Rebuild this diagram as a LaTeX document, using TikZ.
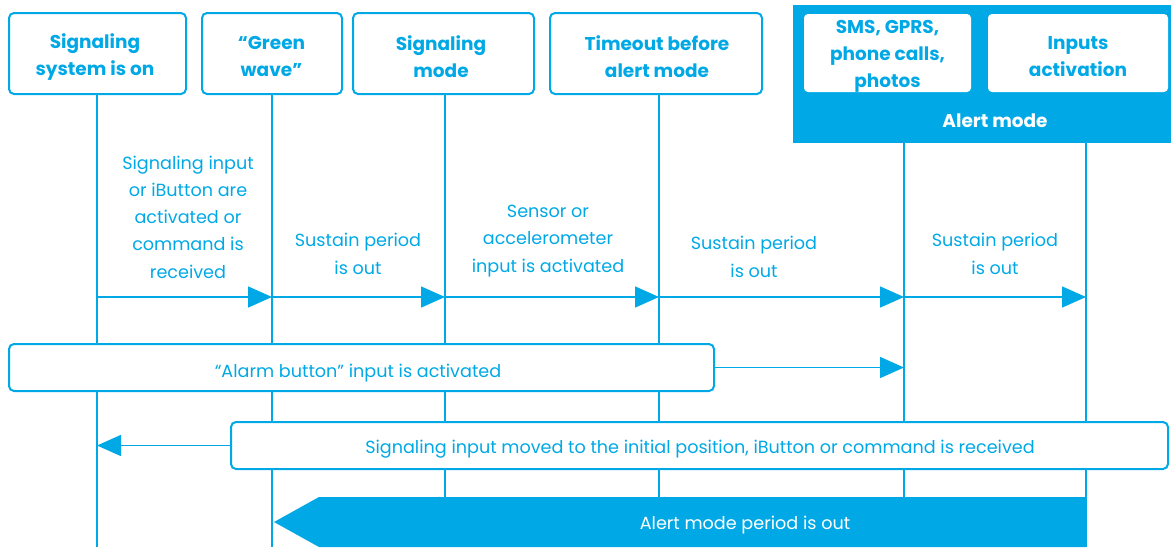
\documentclass[tikz,border=0pt]{standalone}
\usepackage{fontspec}
\setmainfont{Poppins}
\usetikzlibrary{arrows.meta}
\definecolor{sblue}{RGB}{0,169,230}
\tikzset{
  hdr/.style={draw=sblue, line width=2pt, rounded corners=5pt, fill=white, inner sep=0pt},
  htxt/.style={text=sblue, align=center, inner sep=0pt, font=\bfseries\fontsize{18.5}{27}\selectfont},
  inbox/.style={fill=white, rounded corners=4pt, inner sep=0pt},
  life/.style={draw=sblue, line width=2pt},
  msg/.style={draw=sblue, line width=1.6pt, -{Triangle[length=24pt,width=21pt]}, fill=sblue},
  lbl/.style={text=sblue, align=center, inner sep=0pt, font=\fontsize{17.6}{27.3}\selectfont},
  bar/.style={draw=sblue, line width=2pt, rounded corners=5pt, fill=white, inner sep=0pt},
  btxt/.style={text=sblue, inner sep=0pt, font=\fontsize{17.6}{20}\selectfont},
}
\begin{document}
\begin{tikzpicture}[x=1pt,y=-1pt]
\useasboundingbox (0,0) rectangle (1171,547);
% lifeline ends
\coordinate (t1) at (97,94);   \coordinate (e1) at (97,547);
\coordinate (t2) at (272,94);  \coordinate (e2) at (272,547);
\coordinate (t3) at (445,94);  \coordinate (e3) at (445,547);
\coordinate (t4) at (659,94);  \coordinate (e4) at (659,547);
\coordinate (t5) at (904,143); \coordinate (e5) at (904,547);
\coordinate (t6) at (1086,143);\coordinate (e6) at (1086,547);
\coordinate (r1) at (0,297);
\foreach \i in {1,...,6} {\draw[life] (t\i) -- (e\i);}
% headers
\node[hdr, minimum width=177pt, minimum height=81pt] (h1) at (97.5,53.5) {};
\node[htxt] (h1t) at (95,57) {Signaling\\system is on};
\node[hdr, minimum width=140pt, minimum height=81pt] (h2) at (272,53.5) {};
\node[htxt] (h2t) at (271.5,57) {“Green\\wave”};
\node[hdr, minimum width=181pt, minimum height=81pt] (h3) at (443.5,53.5) {};
\node[htxt] (h3t) at (441,57) {Signaling\\mode};
\node[hdr, minimum width=212pt, minimum height=81pt] (h4) at (656,53.5) {};
\node[htxt] (h4t) at (657,57) {Timeout before\\alert mode};
% alert mode block
\node[fill=sblue, minimum width=378pt, minimum height=138pt, inner sep=0pt] (am) at (982,74) {};
\node[text=white, font=\bfseries\fontsize{18.5}{20}\selectfont, inner sep=0pt] (amlbl) at (995,121) {Alert mode};
\node[inbox, minimum width=167pt, minimum height=78pt] (h5) at (887.5,53) {};
\node[htxt] (h5t) at (887.5,56) {SMS, GPRS,\\phone calls,\\photos};
\node[inbox, minimum width=180pt, minimum height=78pt] (h6) at (1078,53) {};
\node[htxt] (h6t) at (1078,57) {Inputs\\activation};
% messages
\draw[msg] (t1 |- r1) -- (t2 |- r1);
\draw[msg] (t2 |- r1) -- (t3 |- r1);
\draw[msg] (t3 |- r1) -- (t4 |- r1);
\draw[msg] (t4 |- r1) -- (t5 |- r1);
\draw[msg] (t5 |- r1) -- (t6 |- r1);
\node[lbl] (m1) at (188,217) {Signaling input\\or iButton are\\activated or\\command is\\received};
\node[lbl] (m2) at (358,254) {Sustain period\\is out};
\node[lbl] (m3) at (548,241) {Sensor or\\accelerometer\\input is activated};
\node[lbl] (m4) at (754,257) {Sustain period\\is out};
\node[lbl] (m5) at (995,254) {Sustain period\\is out};
% alarm bar
\node[bar, minimum width=705pt, minimum height=47pt] (alarm) at (361.5,367.5) {};
\node[btxt] (alarmt) at (358,373) {“Alarm button” input is activated};
\draw[msg] (alarm.east) -- (t5 |- alarm.east);
% return bar
\node[bar, minimum width=937pt, minimum height=47pt] (ret) at (699.5,445.5) {};
\node[btxt] (rett) at (700,449.5) {Signaling input moved to the initial position, iButton or command is received};
\draw[msg] (ret.west) -- (t1 |- ret.west);
% bottom filled arrow
\coordinate (bt) at (274,522);
\fill[sblue] (1086,497) -- (319,497) -- (bt) -- (319,547) -- (1086,547) -- cycle;
\node[text=white, inner sep=0pt, font=\fontsize{17.6}{20}\selectfont] (amp) at (745,525) {Alert mode period is out};
\end{tikzpicture}
\end{document}
